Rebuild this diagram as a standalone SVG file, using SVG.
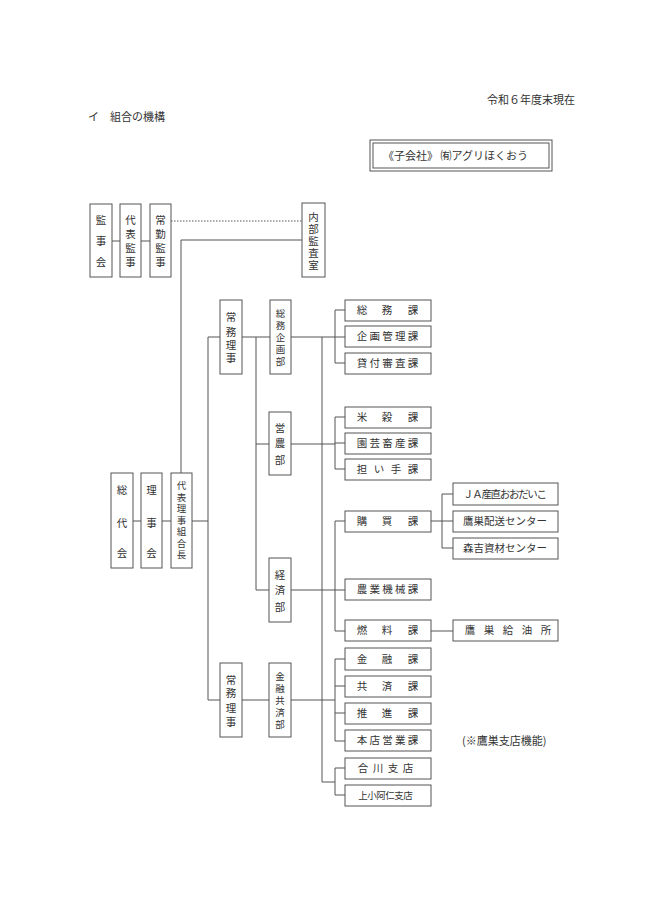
<svg xmlns="http://www.w3.org/2000/svg" width="650" height="919" viewBox="0 0 650 919">
<style>
text{font-family:"Noto Sans CJK JP","Liberation Serif",serif;font-size:10.5px;fill:#333;text-anchor:middle}
.s{font-size:9.5px}
.b{fill:#fff;stroke:#555;stroke-width:1}
.c{stroke:#555;stroke-width:1;fill:none}
.h{text-anchor:start;font-size:11px}
</style>
<rect width="650" height="919" fill="#fff"/>
<text class="h" x="487" y="104">令和６年度末現在</text>
<text class="h" x="88" y="121">イ　組合の機構</text>
<g id="sub">
<rect class="b" x="370" y="140" width="182" height="31"/>
<rect class="c" x="373" y="143" width="176" height="25"/>
<text class="h" x="383" y="160">《子会社》 ㈲アグリほくおう</text>
</g>
<g id="connectors">
<path class="c" stroke-dasharray="1.5,1.5" d="M171 221H302"/>
<path class="c" d="M112 241H120M141 241H150M181 240H302M181 240V473"/>
<path class="c" d="M133 521H141M162 521H171M192 521H208M208 337V700M208 337H220M208 700H220"/>
<path class="c" d="M242 337H270M256 337V590M256 444H269M256 590H269M242 700H269"/>
<path class="c" d="M291 337H335M322 337V782H335M291 444H335M291 590H335M291 700H335"/>
<path class="c" d="M335 310V363M335 310H345M335 337H345M335 363H345"/>
<path class="c" d="M335 417V469M335 417H345M335 443H345M335 469H345"/>
<path class="c" d="M335 521V631M335 521H345M335 590H345M335 631H345"/>
<path class="c" d="M335 659V741M335 659H345M335 686H345M335 713H345M335 741H345"/>
<path class="c" d="M335 768V795M335 768H345M335 795H345"/>
<path class="c" d="M430 521H442M442 494V548M442 494H453M442 521H453M442 548H453M430 631H453"/>
</g>
<g id="kanjikai"><rect class="b" x="90" y="204" width="22" height="73"/><text x="101" y="224">監</text><text x="101" y="245">事</text><text x="101" y="266">会</text></g>
<g id="daihyokanji"><rect class="b" x="120" y="204" width="21" height="73"/><text x="130.5" y="224">代</text><text x="130.5" y="238">表</text><text x="130.5" y="252">監</text><text x="130.5" y="266">事</text></g>
<g id="jokinkanji"><rect class="b" x="150" y="204" width="21" height="73"/><text x="160.5" y="224">常</text><text x="160.5" y="238">勤</text><text x="160.5" y="252">監</text><text x="160.5" y="266">事</text></g>
<g id="naibu"><rect class="b" x="302" y="203" width="23" height="74"/><text x="313.5" y="221">内</text><text x="313.5" y="233">部</text><text x="313.5" y="245">監</text><text x="313.5" y="257">査</text><text x="313.5" y="269">室</text></g>
<g id="sodaikai"><rect class="b" x="111" y="473" width="22" height="95"/><text x="122" y="494">総</text><text x="122" y="527">代</text><text x="122" y="557">会</text></g>
<g id="rijikai"><rect class="b" x="141" y="473" width="21" height="95"/><text x="151.5" y="494">理</text><text x="151.5" y="527">事</text><text x="151.5" y="557">会</text></g>
<g id="kumiaicho" class="s"><rect class="b" x="171" y="473" width="21" height="95"/><text class="s" x="181.5" y="489">代</text><text class="s" x="181.5" y="500.5">表</text><text class="s" x="181.5" y="512">理</text><text class="s" x="181.5" y="523.5">事</text><text class="s" x="181.5" y="535">組</text><text class="s" x="181.5" y="546.5">合</text><text class="s" x="181.5" y="558">長</text></g>
<g id="jomu1"><rect class="b" x="220" y="300" width="22" height="74"/><text x="231" y="321">常</text><text x="231" y="336">務</text><text x="231" y="349">理</text><text x="231" y="362">事</text></g>
<g id="somukikaku"><rect class="b" x="270" y="300" width="21" height="74"/><text class="s" x="280.5" y="317">総</text><text class="s" x="280.5" y="329">務</text><text class="s" x="280.5" y="341">企</text><text class="s" x="280.5" y="353">画</text><text class="s" x="280.5" y="365">部</text></g>
<g id="einobu"><rect class="b" x="269" y="412" width="22" height="63"/><text x="280" y="432">営</text><text x="280" y="447">農</text><text x="280" y="464">部</text></g>
<g id="keizaibu"><rect class="b" x="269" y="558" width="22" height="64"/><text x="280" y="579">経</text><text x="280" y="594">済</text><text x="280" y="611">部</text></g>
<g id="jomu2"><rect class="b" x="220" y="663" width="22" height="74"/><text x="231" y="684">常</text><text x="231" y="697">務</text><text x="231" y="712">理</text><text x="231" y="726">事</text></g>
<g id="kinyu"><rect class="b" x="269" y="663" width="22" height="74"/><text class="s" x="280" y="680">金</text><text class="s" x="280" y="692">融</text><text class="s" x="280" y="704">共</text><text class="s" x="280" y="716">済</text><text class="s" x="280" y="728">部</text></g>
<g id="somuka"><rect class="b" x="345" y="300" width="86" height="21"/><text x="362 387 413" y="314">総務課</text></g>
<g id="kikakuka"><rect class="b" x="345" y="326" width="86" height="21"/><text x="362 374.75 387.5 400.25 413" y="340">企画管理課</text></g>
<g id="kashitsuke"><rect class="b" x="345" y="353" width="86" height="21"/><text x="362 374.75 387.5 400.25 413" y="367">貸付審査課</text></g>
<g id="beikoku"><rect class="b" x="345" y="407" width="86" height="21"/><text x="362 387 413" y="421">米穀課</text></g>
<g id="engei"><rect class="b" x="345" y="433" width="86" height="21"/><text x="362 374.75 387.5 400.25 413" y="447">園芸畜産課</text></g>
<g id="ninaite"><rect class="b" x="345" y="459" width="86" height="21"/><text x="362 379 396 413" y="473">担い手課</text></g>
<g id="kobai"><rect class="b" x="345" y="511" width="86" height="21"/><text x="362 387 413" y="525">購買課</text></g>
<g id="nogyokikai"><rect class="b" x="345" y="579" width="86" height="21"/><text x="362 374.75 387.5 400.25 413" y="593">農業機械課</text></g>
<g id="nenryo"><rect class="b" x="345" y="620" width="86" height="21"/><text x="362 387 413" y="634">燃料課</text></g>
<g id="ja"><rect class="b" x="453" y="483" width="105" height="22"/><text x="505" y="498" textLength="84" lengthAdjust="spacing">ＪＡ産直おおだいこ</text></g>
<g id="haiso"><rect class="b" x="453" y="511" width="105" height="21"/><text x="505" y="525" textLength="84" lengthAdjust="spacing">鷹巣配送センター</text></g>
<g id="moriyoshi"><rect class="b" x="453" y="538" width="105" height="21"/><text x="505" y="552" textLength="84" lengthAdjust="spacing">森吉資材センター</text></g>
<g id="kyuyu"><rect class="b" x="453" y="620" width="105" height="21"/><text x="470 489 508 527 546" y="634">鷹巣給油所</text></g>
<g id="kinyuka"><rect class="b" x="345" y="648" width="86" height="22"/><text x="362 387 413" y="663">金融課</text></g>
<g id="kyosai"><rect class="b" x="345" y="676" width="86" height="21"/><text x="362 387 413" y="690">共済課</text></g>
<g id="suishin"><rect class="b" x="345" y="703" width="86" height="21"/><text x="362 387 413" y="717">推進課</text></g>
<g id="honten"><rect class="b" x="345" y="730" width="86" height="21"/><text x="362 374.75 387.5 400.25 413" y="744">本店営業課</text></g>
<g id="aikawa"><rect class="b" x="345" y="758" width="86" height="21"/><text x="363 378 393 408" y="772">合川支店</text></g>
<g id="kamikoani"><rect class="b" x="345" y="785" width="86" height="21"/><text class="s" x="363 372 381 390 399 408" y="799">上小阿仁支店</text></g>
<text class="h" x="462" y="745">(※鷹巣支店機能)</text>
</svg>
